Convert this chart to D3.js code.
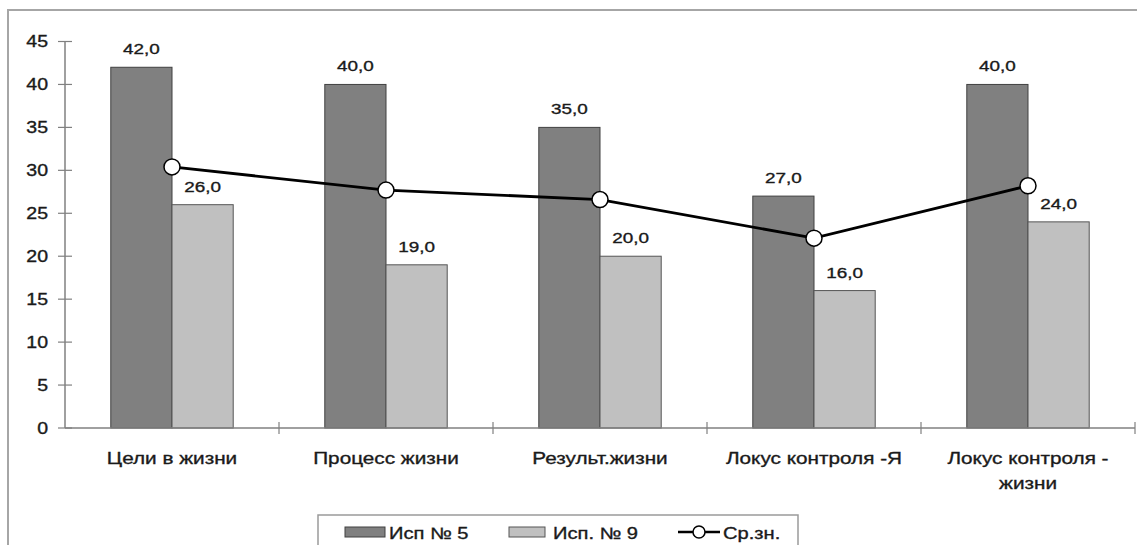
<!DOCTYPE html>
<html>
<head>
<meta charset="utf-8">
<script src="https://cdn.jsdelivr.net/npm/d3@7"></script>
<style>
  body { margin: 0; background: #fff; }
  svg { display: block; font-family: "Liberation Sans", Arial, sans-serif; }
</style>
</head>
<body>
<div id="chart"></div>
<script>
const categories = ["Цели в жизни", "Процесс жизни", "Результ.жизни", "Локус контроля -Я", "Локус контроля - жизни"];
const isp5 = [42, 40, 35, 27, 40];
const isp9 = [26, 19, 20, 16, 24];
const mean = [30.4, 27.7, 26.6, 22.1, 28.2];
const yTicks = [0, 5, 10, 15, 20, 25, 30, 35, 40, 45];
const seriesNames = ["Исп № 5", "Исп. № 9", "Ср.зн."];

const width = 1137;
const height = 545;
const margin = { top: 41.5, right: 2, bottom: 117, left: 65 };
const SX = 1.22; // the source picture is stretched horizontally

const svg = d3.select("#chart").append("svg")
  .attr("width", width)
  .attr("height", height);

// outer frame
svg.append("rect")
  .attr("x", 8).attr("y", 10)
  .attr("width", width + 20).attr("height", height + 20)
  .attr("fill", "none").attr("stroke", "#a6a6a6").attr("stroke-width", 2);

const x = d3.scaleBand().domain(categories).range([margin.left, width - margin.right]);
const y = d3.scaleLinear().domain([0, 45]).range([height - margin.bottom, margin.top]);
const barW = x.bandwidth() * 0.286;

// stretched text helper
const label = (g, tx, ty, txt, size, anchor) =>
  g.append("text")
    .attr("transform", `translate(${tx},${ty}) scale(${SX},1)`)
    .attr("text-anchor", anchor || "middle")
    .attr("font-size", size)
    .attr("fill", "#1a1a1a")
    .attr("stroke", "#1a1a1a")
    .attr("stroke-width", 0.35)
    .text(txt);

// bars
const gBars = svg.append("g");
categories.forEach((c, i) => {
  const cx = x(c) + x.bandwidth() / 2;
  gBars.append("rect")
    .attr("x", cx - barW).attr("y", y(isp5[i]))
    .attr("width", barW).attr("height", y(0) - y(isp5[i]))
    .attr("fill", "#808080").attr("stroke", "#404040").attr("stroke-width", 1);
  gBars.append("rect")
    .attr("x", cx).attr("y", y(isp9[i]))
    .attr("width", barW).attr("height", y(0) - y(isp9[i]))
    .attr("fill", "#c0c0c0").attr("stroke", "#555").attr("stroke-width", 1);
  label(svg, cx - barW / 2, y(isp5[i]) - 13, d3.format(".1f")(isp5[i]).replace(".", ","), 15.5);
  label(svg, cx + barW / 2, y(isp9[i]) - 13, d3.format(".1f")(isp9[i]).replace(".", ","), 15.5);
});

// axes
const axisColor = "#808080";
const gy = svg.append("g");
gy.append("line")
  .attr("x1", margin.left).attr("x2", margin.left)
  .attr("y1", y(45)).attr("y2", y(0))
  .attr("stroke", axisColor).attr("stroke-width", 1.5);
yTicks.forEach((t) => {
  gy.append("line")
    .attr("x1", margin.left - 7).attr("x2", margin.left + 7)
    .attr("y1", y(t)).attr("y2", y(t))
    .attr("stroke", axisColor).attr("stroke-width", 1.2);
  label(gy, margin.left - 17, y(t) + 5.5, t, 16, "end");
});

const gx = svg.append("g");
gx.append("line")
  .attr("x1", margin.left).attr("x2", width - margin.right)
  .attr("y1", y(0)).attr("y2", y(0))
  .attr("stroke", axisColor).attr("stroke-width", 1.5);
categories.forEach((c, i) => {
  const tx = x(c) + x.bandwidth();
  gx.append("line")
    .attr("x1", tx).attr("x2", tx)
    .attr("y1", y(0) - 6).attr("y2", y(0) + 6)
    .attr("stroke", axisColor).attr("stroke-width", 1.2);
  // wrap long labels
  const cx = x(c) + x.bandwidth() / 2;
  const lines = c.length > 18 ? ["Локус контроля -", "жизни"] : [c];
  lines.forEach((ln, k) => label(gx, cx, 464 + k * 25, ln, 17));
});

// mean line
const cxOf = (i) => x(categories[i]) + x.bandwidth() / 2;
const line = d3.line().x((d, i) => cxOf(i)).y((d) => y(d));
svg.append("path")
  .datum(mean)
  .attr("d", line)
  .attr("fill", "none").attr("stroke", "#000").attr("stroke-width", 2.8);
svg.selectAll("circle.pt").data(mean).join("circle")
  .attr("class", "pt")
  .attr("cx", (d, i) => cxOf(i)).attr("cy", (d) => y(d))
  .attr("r", 8)
  .attr("fill", "#fff").attr("stroke", "#000").attr("stroke-width", 1.5);

// legend
const lg = svg.append("g");
lg.append("rect")
  .attr("x", 318).attr("y", 515).attr("width", 480).attr("height", 60)
  .attr("fill", "#fff").attr("stroke", "#9a9a9a").attr("stroke-width", 1.5);
lg.append("rect").attr("x", 345).attr("y", 527).attr("width", 40).attr("height", 10)
  .attr("fill", "#808080").attr("stroke", "#404040");
label(lg, 389, 539, seriesNames[0], 16.5, "start");
lg.append("rect").attr("x", 509).attr("y", 527).attr("width", 36).attr("height", 10)
  .attr("fill", "#c0c0c0").attr("stroke", "#555");
label(lg, 553, 539, seriesNames[1], 16.5, "start");
lg.append("line").attr("x1", 678).attr("x2", 720).attr("y1", 532).attr("y2", 532)
  .attr("stroke", "#000").attr("stroke-width", 2.5);
lg.append("circle").attr("cx", 699).attr("cy", 532).attr("r", 6)
  .attr("fill", "#fff").attr("stroke", "#000").attr("stroke-width", 1.5);
label(lg, 723, 539, seriesNames[2], 16.5, "start");
</script>
</body>
</html>
